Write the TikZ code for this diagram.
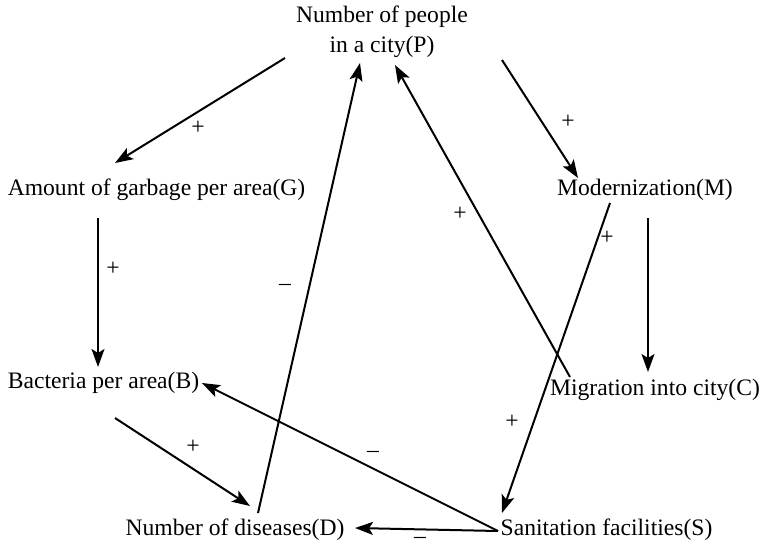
\documentclass[tikz,border=0pt]{standalone}
\usepackage{fontspec}
\setmainfont{Liberation Serif}
\usetikzlibrary{arrows.meta}
\begin{document}
\begin{tikzpicture}[x=1pt,y=-1pt,
  lbl/.style={inner sep=0pt, anchor=base, font=\fontsize{23.6}{30}\selectfont},
  sgn/.style={inner sep=0pt, font=\fontsize{23.6}{30}\selectfont},
  arr/.style={line width=2pt, -{Stealth[length=18pt,width=13pt,inset=4pt]}}]
\useasboundingbox (0,0) rectangle (763,549);
% nodes
\node[lbl, align=center] (P) at (382,52) {Number of people\\in a city(P)};
\node[lbl] (G) at (156.5,195) {Amount of garbage per area(G)};
\node[lbl] (M) at (645,195) {Modernization(M)};
\node[lbl] (B) at (103.5,388) {Bacteria per area(B)};
\node[lbl] (C) at (655,395) {Migration into city(C)};
\node[lbl] (D) at (235,535) {Number of diseases(D)};
\node[lbl] (S) at (606.5,535) {Sanitation facilities(S)};
% connectors
\draw[arr] ([shift={(-97,6)}]P.base) -- ([shift={(-41.5,-32)}]G.base);
\draw[arr] ([shift={(120,8)}]P.base) -- ([shift={(-67,-17)}]M.base);
\draw[arr] ([shift={(-58.5,23)}]G.base) -- ([shift={(-5.5,-21)}]B.base);
\draw[arr] ([shift={(3,23)}]M.base) -- ([shift={(-7,-23)}]C.base);
\draw[arr] ([shift={(-85,-18)}]C.base) -- ([shift={(13,13)}]P.base);
\draw[arr] ([shift={(11.5,30)}]B.base) -- ([shift={(15,-29)}]D.base);
\draw[arr] ([shift={(23,-22)}]D.base) -- ([shift={(-22,11)}]P.base);
\draw[arr] ([shift={(-108.5,-4)}]S.base) -- ([shift={(98.5,-5)}]B.base);
\draw[arr] ([shift={(-108.5,-4)}]S.base) -- ([shift={(120,-7)}]D.base);
\draw[arr] ([shift={(-35,8)}]M.base) -- ([shift={(-104.5,-22)}]S.base);
% signs
\node[sgn] (s1) at (198,128) {+};
\node[sgn] (s2) at (568,122) {+};
\node[sgn] (s3) at (113,269) {+};
\node[sgn] (s4) at (607,238) {+};
\node[sgn] (s5) at (512,422) {+};
\node[sgn] (s6) at (460,214) {+};
\node[sgn] (s7) at (193,447) {+};
\node[sgn] (s8) at (285,287) {–};
\node[sgn] (s9) at (373,454) {–};
\node[sgn] (s10) at (420,540) {–};
\end{tikzpicture}
\end{document}
